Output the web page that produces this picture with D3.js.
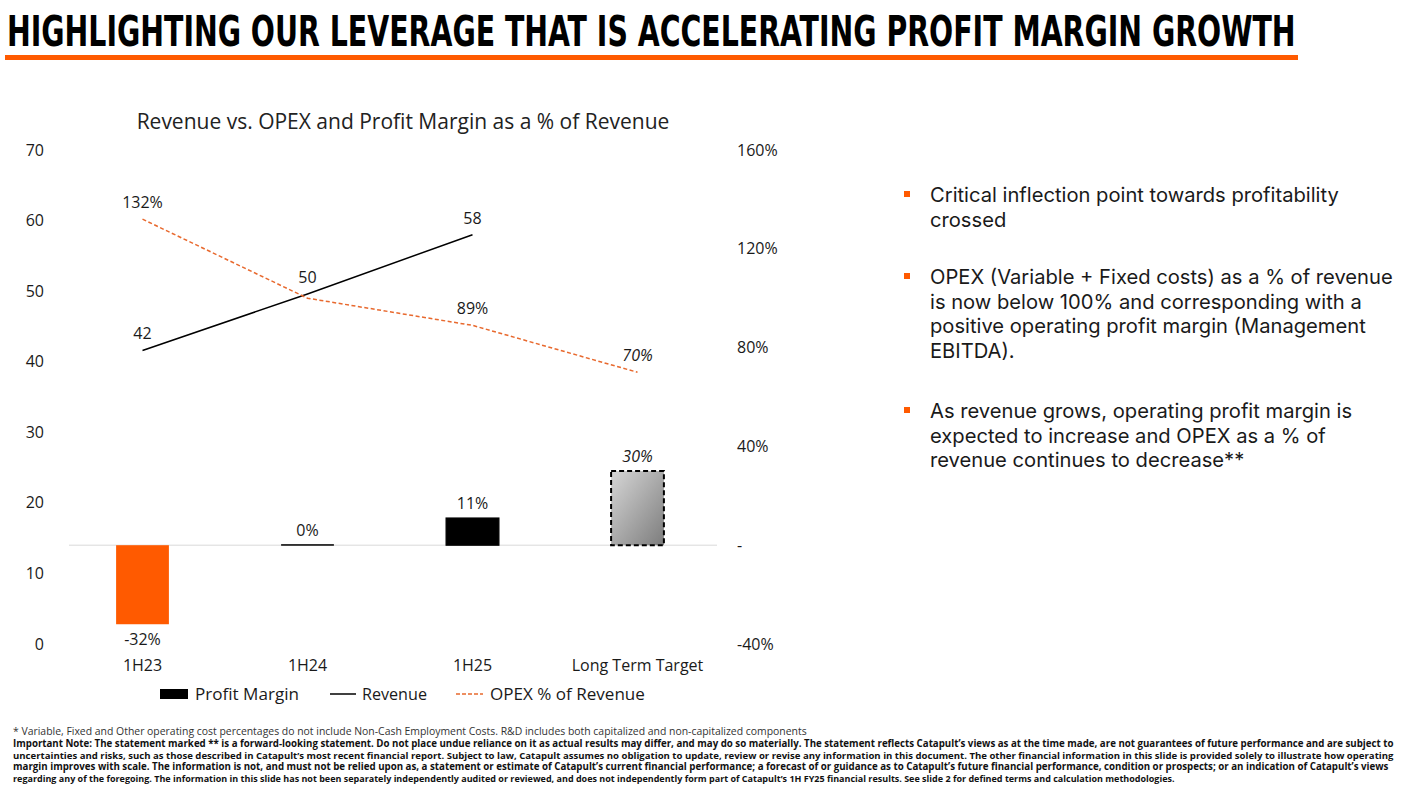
<!DOCTYPE html>
<html>
<head>
<meta charset="utf-8">
<script src="https://cdn.jsdelivr.net/npm/d3@7/dist/d3.min.js"></script>
<style>
  html, body { margin: 0; padding: 0; background: #fff; }
  svg { display: block; font-family: "Open Sans", "Noto Sans", sans-serif; }
  text { fill: #1a1a1a; }
</style>
</head>
<body>
<svg id="chart" width="1421" height="786"></svg>
<script>
// ---------- DATA ----------
const categories = ["1H23", "1H24", "1H25", "Long Term Target"];
const revenue = [41.6, 49.6, 58.0];                 // US$m (left axis)
const revenueLabels = ["42", "50", "58"];
const opexPct = [132, 100, 89, 70];                 // % of revenue (right axis)
const opexLabels = ["132%", "", "89%", "70%"];
const profitMargin = [-32, 0, 11, 30];              // % (right axis)
const marginLabels = ["-32%", "0%", "11%", "30%"];
const leftTicks = [0, 10, 20, 30, 40, 50, 60, 70];
const rightTicks = [-40, 0, 40, 80, 120, 160];
const legendItems = ["Profit Margin", "Revenue", "OPEX % of Revenue"];
const titleText = "HIGHLIGHTING OUR LEVERAGE THAT IS ACCELERATING PROFIT MARGIN GROWTH";
const chartTitle = "Revenue vs. OPEX and Profit Margin as a % of Revenue";
const bullets = [
  ["Critical inflection point towards profitability", "crossed"],
  ["OPEX (Variable + Fixed costs) as a % of revenue", "is now below 100% and corresponding with a", "positive operating profit margin (Management", "EBITDA)."],
  ["As revenue grows, operating profit margin is", "expected to increase and OPEX as a % of", "revenue continues to decrease**"]
];
const footnote0 = "* Variable, Fixed and Other operating cost percentages do not include Non-Cash Employment Costs. R&D includes both capitalized and non-capitalized components";
const footnotes = [
  "Important Note: The statement marked ** is a forward-looking statement. Do not place undue reliance on it as actual results may differ, and may do so materially. The statement reflects Catapult\u2019s views as at the time made, are not guarantees of future performance and are subject to",
  "uncertainties and risks, such as those described in Catapult\u2019s most recent financial report. Subject to law, Catapult assumes no obligation to update, review or revise any information in this document. The other financial information in this slide is provided solely to illustrate how operating",
  "margin improves with scale. The information is not, and must not be relied upon as, a statement or estimate of Catapult\u2019s current financial performance; a forecast of or guidance as to Catapult\u2019s future financial performance, condition or prospects; or an indication of Catapult\u2019s views",
  "regarding any of the foregoing. The information in this slide has not been separately independently audited or reviewed, and does not independently form part of Catapult\u2019s 1H FY25 financial results. See slide 2 for defined terms and calculation methodologies."
];

const ORANGE = "#FF5A00";
const OPEX_COLOR = "#E8692E";

const svg = d3.select("#chart");

function fitWidth(sel, target) {
  const w = sel.node().getComputedTextLength();
  const fs = parseFloat(sel.attr("font-size"));
  sel.attr("font-size", (fs * target / w).toFixed(2));
}

// ---------- HEADER ----------
const ttl = svg.append("text")
  .attr("x", 0).attr("y", 0)
  .style("font-family", "'Liberation Sans Narrow', 'DejaVu Sans Condensed', sans-serif")
  .attr("font-weight", "bold")
  .attr("font-size", 43)
  .style("fill", "#000")
  .text(titleText);
const tw = ttl.node().getComputedTextLength();
ttl.attr("transform", `translate(7,46) scale(${(1289 / tw).toFixed(4)},1)`);
svg.append("rect").attr("x", 5).attr("y", 55).attr("width", 1293).attr("height", 5).attr("fill", ORANGE);

// ---------- SCALES ----------
const x = d3.scaleBand().domain(categories).range([60, 720]).paddingInner(0.68).paddingOuter(0.34);
const cx = d => x(d) + x.bandwidth() / 2;
const yL = d3.scaleLinear().domain([0, 70]).range([644, 150]);
const yR = d3.scaleLinear().domain([-40, 160]).range([644, 150]);

// chart title
const ct = svg.append("text")
  .attr("x", 403).attr("y", 129)
  .attr("text-anchor", "middle")
  .attr("font-size", 19)
  .style("fill", "#222")
  .text(chartTitle);
fitWidth(ct, 533);

// axes
const axL = svg.append("g").attr("transform", "translate(44,0)")
  .call(d3.axisLeft(yL).tickValues(leftTicks).tickSize(0).tickPadding(0).tickFormat(d3.format("d")));
const axR = svg.append("g").attr("transform", "translate(737,0)")
  .call(d3.axisRight(yR).tickValues(rightTicks).tickSize(0).tickPadding(0).tickFormat(d => d === 0 ? "-" : d + "%"));
const axB = svg.append("g").attr("transform", "translate(0,660)")
  .call(d3.axisBottom(x).tickSize(0).tickPadding(0));
[axL, axR, axB].forEach(a => {
  a.attr("font-family", null).attr("font-size", null);
  a.select(".domain").remove();
  a.selectAll("text").attr("font-size", 16).style("fill", "#1a1a1a");
});

// zero baseline
svg.append("line")
  .attr("x1", 69).attr("x2", 717)
  .attr("y1", yR(0)).attr("y2", yR(0))
  .attr("stroke", "#d9d9d9").attr("stroke-width", 1);

// gradient for target bar
const defs = svg.append("defs");
const grad = defs.append("linearGradient").attr("id", "tgtGrad")
  .attr("x1", "0%").attr("y1", "0%").attr("x2", "100%").attr("y2", "100%");
grad.append("stop").attr("offset", "0%").attr("stop-color", "#d6d6d6");
grad.append("stop").attr("offset", "100%").attr("stop-color", "#7d7d7d");

// bars
const barData = categories.map((c, i) => ({ c, v: profitMargin[i], i }));
svg.append("g").selectAll("rect").data(barData).join("rect")
  .attr("x", d => x(d.c))
  .attr("width", x.bandwidth())
  .attr("y", d => Math.min(yR(d.v), yR(0) - (d.v === 0 ? 1 : 0)))
  .attr("height", d => Math.max(1.5, Math.abs(yR(d.v) - yR(0))))
  .attr("fill", d => d.v < 0 ? ORANGE : (d.i === 3 ? "url(#tgtGrad)" : "#000"))
  .attr("stroke", d => d.v <= 0 ? "none" : "#000")
  .attr("stroke-width", d => d.i === 3 ? 2 : 1.2)
  .attr("stroke-dasharray", d => d.i === 3 ? "5,3" : null);

// bar labels
svg.append("g").selectAll("text").data(barData).join("text")
  .attr("x", d => cx(d.c))
  .attr("y", d => d.v < 0 ? yR(d.v) + 21 : yR(d.v) - 9)
  .attr("text-anchor", "middle")
  .attr("font-size", 16)
  .attr("font-style", d => d.i === 3 ? "italic" : "normal")
  .text(d => marginLabels[d.i]);

// revenue line
const revData = revenue.map((v, i) => ({ c: categories[i], v, i }));
svg.append("path").datum(revData)
  .attr("fill", "none").attr("stroke", "#000").attr("stroke-width", 1.5)
  .attr("d", d3.line().x(d => cx(d.c)).y(d => yL(d.v)));
svg.append("g").selectAll("text").data(revData).join("text")
  .attr("x", d => cx(d.c))
  .attr("y", d => yL(d.v) - 11)
  .attr("text-anchor", "middle")
  .attr("font-size", 16)
  .text(d => revenueLabels[d.i]);

// opex line
const opData = opexPct.map((v, i) => ({ c: categories[i], v, i }));
svg.append("path").datum(opData)
  .attr("fill", "none").attr("stroke", OPEX_COLOR).attr("stroke-width", 1.5)
  .attr("stroke-dasharray", "4,2.5")
  .attr("d", d3.line().x(d => cx(d.c)).y(d => yR(d.v)));
svg.append("g").selectAll("text").data(opData).join("text")
  .attr("x", d => cx(d.c))
  .attr("y", d => yR(d.v) - 11)
  .attr("text-anchor", "middle")
  .attr("font-size", 16)
  .attr("font-style", d => d.i === 3 ? "italic" : "normal")
  .text(d => opexLabels[d.i]);

// legend
const lg = svg.append("g").attr("transform", "translate(0,694)");
lg.append("rect").attr("x", 160).attr("y", -5).attr("width", 28).attr("height", 10).attr("fill", "#000");
lg.append("line").attr("x1", 330).attr("x2", 356).attr("y1", 0).attr("y2", 0).attr("stroke", "#000").attr("stroke-width", 1.5);
lg.append("line").attr("x1", 456).attr("x2", 483).attr("y1", 0).attr("y2", 0).attr("stroke", OPEX_COLOR).attr("stroke-width", 1.5).attr("stroke-dasharray", "4,2");
const legX = [195, 362, 490];
const legW = [104, 65, 155];
lg.selectAll("text.leg").data(legendItems).join("text").attr("class", "leg")
  .attr("x", (d, i) => legX[i]).attr("y", 6)
  .attr("font-size", 16)
  .text(d => d)
  .each(function (d, i) { fitWidth(d3.select(this), legW[i]); });

// ---------- BULLETS ----------
const bulletTop = [202, 284, 418];
const lineH = 24.5;
const BFONT = "Inter, 'DejaVu Sans', sans-serif";
const refTotal = 426 + 72 + 437 + 436 + 453 + 86 + 427 + 400 + 296;
const bg = svg.append("g");
let measured = 0;
bullets.flat().forEach(ln => {
  const p = bg.append("text").style("font-family", BFONT).attr("font-size", 19).text(ln);
  measured += p.node().getComputedTextLength();
  p.remove();
});
const bfs = (19 * refTotal / measured).toFixed(2);
bullets.forEach((lines, bi) => {
  bg.append("rect").attr("x", 904).attr("y", bulletTop[bi] - 11).attr("width", 6).attr("height", 6).attr("fill", ORANGE);
  lines.forEach((ln, li) => {
    bg.append("text").attr("x", 930).attr("y", bulletTop[bi] + li * lineH)
      .style("font-family", BFONT)
      .attr("font-size", bfs).style("fill", "#1a1a1a").text(ln);
  });
});

// ---------- FOOTNOTES ----------
const f0 = svg.append("text").attr("x", 13).attr("y", 735).attr("font-size", 10).style("fill", "#333").text(footnote0);
fitWidth(f0, 794);
const fnWidths = [1381, 1382, 1375, 1163];
footnotes.forEach((t, i) => {
  const el = svg.append("text").attr("x", 13).attr("y", 747 + i * 11.7)
    .attr("font-size", 10).attr("font-weight", "bold").style("fill", "#111").text(t);
  fitWidth(el, fnWidths[i]);
});
</script>
</body>
</html>
